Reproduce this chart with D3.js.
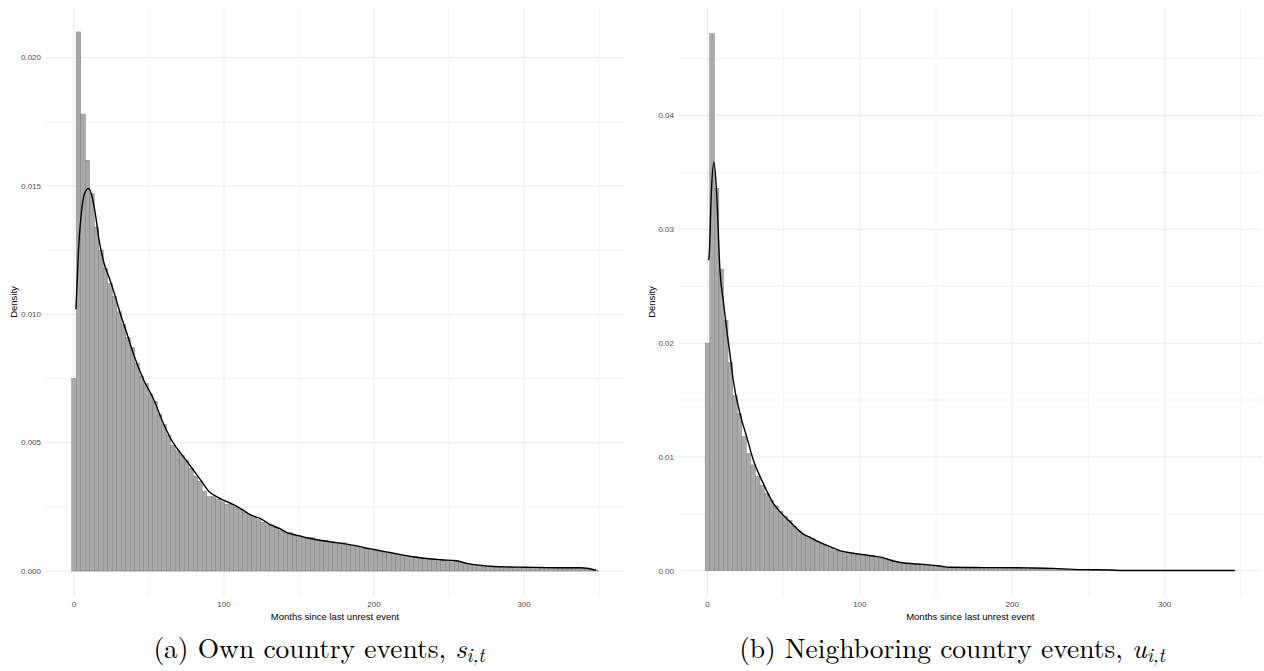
<!DOCTYPE html>
<html>
<head>
<meta charset="utf-8">
<script src="https://cdn.jsdelivr.net/npm/d3@7"></script>
<style>
  body { margin: 0; background: #fff; }
  svg { display: block; }
</style>
</head>
<body>
<script>
// histogram bins are 3 months wide, centres at 0, 3, 6, ...
const binWidth = 3;

// (a) own country events: bar densities
const ownBars = [
  0.0075, 0.0210, 0.0178, 0.0160, 0.0147, 0.0134, 0.0125, 0.0118, 0.0112, 0.0107,
  0.0101, 0.0096, 0.0091, 0.0087, 0.0081, 0.0076, 0.0073, 0.0069, 0.0066, 0.0061,
  0.0057, 0.0053, 0.0049, 0.0047, 0.0045, 0.0043, 0.0040, 0.0037, 0.0035, 0.0031,
  0.0029, 0.0029, 0.0028, 0.0027, 0.0026, 0.0026, 0.0025, 0.0024, 0.0023, 0.0022,
  0.0021, 0.0020, 0.0019, 0.0018, 0.0018, 0.0017, 0.0016, 0.0015, 0.0015, 0.0014,
  0.0014, 0.0013, 0.0013, 0.0013, 0.0012, 0.0012, 0.0012, 0.0011, 0.0011, 0.0011,
  0.0011, 0.0010, 0.0010, 0.00095, 0.0009, 0.00088, 0.00085, 0.0008, 0.00077, 0.00074,
  0.0007, 0.00067, 0.00065, 0.00062, 0.0006, 0.00057, 0.00055, 0.00052, 0.0005, 0.00048,
  0.00046, 0.00044, 0.00043, 0.00042, 0.0004, 0.00038, 0.00033, 0.0003, 0.00027, 0.00024,
  0.00022, 0.0002, 0.00019, 0.00018, 0.00017, 0.00017, 0.00016, 0.00016, 0.00015, 0.00015,
  0.00015, 0.00014, 0.00014, 0.00014, 0.00013, 0.00013, 0.00013, 0.00013, 0.00013, 0.00012,
  0.00012, 0.00012, 0.00012, 0.00011, 0.0001, 0.00008, 0.00004
];

// (a) kernel density curve: [months, density]
const ownDensity = [
  [1.3, 0.0102], [3, 0.0125], [5, 0.0140], [7, 0.0147], [9.6, 0.0149], [12, 0.0146],
  [14, 0.0140], [17, 0.0128], [20, 0.0120], [24, 0.01134], [28, 0.0106], [31, 0.0100],
  [35, 0.0093], [40, 0.0084], [46, 0.0075], [53, 0.0067], [60, 0.0057], [66, 0.0050],
  [71, 0.0046], [75, 0.0043], [80, 0.0039], [85, 0.0035], [90, 0.0031], [95, 0.0029],
  [100, 0.00275], [106, 0.0026], [112, 0.0024], [118, 0.00218], [124, 0.00205], [131, 0.0018],
  [137, 0.00166], [142, 0.0015], [148, 0.0014], [155, 0.0013], [166, 0.00118], [176, 0.0011],
  [186, 0.00101], [193, 0.00092], [200, 0.00084], [208, 0.00075], [217, 0.00065], [226, 0.00056],
  [235, 0.00049], [245, 0.00044], [255, 0.0004], [262, 0.0003], [270, 0.00023], [280, 0.00018],
  [290, 0.00016], [300, 0.00015], [311, 0.00014], [322, 0.00013], [337, 0.00013], [343, 0.0001],
  [348, 0.00003]
];

// (b) neighboring country events: bar densities
const nbrBars = [
  0.0200, 0.0472, 0.0336, 0.0265, 0.0220, 0.0183, 0.0154, 0.0138, 0.0118, 0.0103,
  0.0093, 0.0083, 0.0075, 0.0068, 0.0062, 0.0057, 0.0052, 0.0048, 0.0044, 0.0039,
  0.0035, 0.0032, 0.0030, 0.0028, 0.0026, 0.0024, 0.0022, 0.0020, 0.0018, 0.0017,
  0.0016, 0.0015, 0.0015, 0.0014, 0.0014, 0.0013, 0.0013, 0.0012, 0.0012, 0.0011,
  0.0010, 0.0008, 0.0007, 0.00066, 0.00062, 0.0006, 0.00058, 0.00055, 0.0005, 0.00045,
  0.0004, 0.00035, 0.00032, 0.0003, 0.0003, 0.0003, 0.00029, 0.00029, 0.00028, 0.00028,
  0.00028, 0.00027, 0.00027, 0.00027, 0.00026, 0.00026, 0.00026, 0.00025, 0.00025, 0.00025,
  0.00024, 0.00024, 0.00023, 0.00022, 0.00021, 0.0002, 0.00018, 0.00016, 0.00014, 0.00013,
  0.00012, 0.00011, 0.0001, 0.0001, 0.00009, 0.00008, 0.00007, 0.00006, 0.00005, 0.00003,
  0.00002, 0.00001, 0.00001, 0.00001, 0.00001, 0.00001, 0.00001, 0.00001, 0.00001, 0.00001,
  0.00001, 0.00001, 0.00001, 0.00001, 0.00001, 0.00001, 0.00001, 0.00001, 0.00001, 0.00001,
  0.00001, 0.00001, 0.00001, 0.00001, 0.00001, 0.00001
];

// (b) kernel density curve
const nbrDensity = [
  [0.5, 0.0273], [1, 0.0275], [2.7, 0.0337], [4.3, 0.0359], [6, 0.0332], [8.2, 0.0264],
  [10.5, 0.0236], [12.6, 0.0212], [14.8, 0.0190], [16.9, 0.01676], [21.3, 0.01383], [25.7, 0.01178],
  [30.1, 0.00973], [36.6, 0.00768], [43.2, 0.00592], [47.6, 0.00519], [54.1, 0.0043], [62.9, 0.00322],
  [67.3, 0.00293], [73.8, 0.0025], [80.4, 0.00211], [86.9, 0.00176], [95.7, 0.00153], [108.8, 0.00129],
  [115, 0.00115], [121.9, 0.00085], [130.7, 0.00065], [141.6, 0.00056], [152.6, 0.00041], [159, 0.0003],
  [175, 0.00028], [189.8, 0.00027], [210, 0.00025], [226.8, 0.00021], [240, 0.00012], [252, 0.00009],
  [264, 0.00006], [273, 0.00002], [300, 0.00002], [346, 0.00002]
];

const xTicks = [0, 100, 200, 300];
const xMinor = [50, 150, 250, 350];
const ownYTicks = [0, 0.005, 0.010, 0.015, 0.020];
const ownYMinor = [0.0025, 0.0075, 0.0125, 0.0175];
const nbrYTicks = [0, 0.01, 0.02, 0.03, 0.04];
const nbrYMinor = [0.005, 0.015, 0.025, 0.035, 0.045];

const xTitle = "Months since last unrest event";
const yTitle = "Density";

const svg = d3.select("body").append("svg")
  .attr("width", 1264)
  .attr("height", 671);

function drawPanel(opts) {
  const x = d3.scaleLinear().domain(opts.xDomain).range(opts.xRange);
  const y = d3.scaleLinear().domain(opts.yDomain).range([597, 7]);
  const g = svg.append("g");

  // grid
  const grid = g.append("g");
  grid.selectAll("line.ymin").data(opts.yMinor).enter().append("line")
    .attr("x1", opts.xRange[0]).attr("x2", opts.xRange[1])
    .attr("y1", d => y(d)).attr("y2", d => y(d))
    .attr("stroke", "#f0f0f0").attr("stroke-width", 0.8);
  grid.selectAll("line.xmin").data(xMinor).enter().append("line")
    .attr("y1", 7).attr("y2", 597)
    .attr("x1", d => x(d)).attr("x2", d => x(d))
    .attr("stroke", "#f0f0f0").attr("stroke-width", 0.8);
  grid.selectAll("line.ymaj").data(opts.yTicks).enter().append("line")
    .attr("x1", opts.xRange[0]).attr("x2", opts.xRange[1])
    .attr("y1", d => y(d)).attr("y2", d => y(d))
    .attr("stroke", "#ebebeb").attr("stroke-width", 1);
  grid.selectAll("line.xmaj").data(xTicks).enter().append("line")
    .attr("y1", 7).attr("y2", 597)
    .attr("x1", d => x(d)).attr("x2", d => x(d))
    .attr("stroke", "#ebebeb").attr("stroke-width", 1);

  // histogram
  g.selectAll("rect.bar").data(opts.bars).enter().append("rect")
    .attr("class", "bar")
    .attr("x", (d, i) => x(i * binWidth - binWidth / 2))
    .attr("width", (d, i) => x(i * binWidth + binWidth / 2) - x(i * binWidth - binWidth / 2))
    .attr("y", d => y(d))
    .attr("height", d => y(0) - y(d))
    .attr("fill", "#a9a9a9")
    .attr("stroke", "#7a7a7a")
    .attr("stroke-width", 0.45);

  // density line
  const line = d3.line()
    .x(d => x(d[0]))
    .y(d => y(d[1]))
    .curve(d3.curveMonotoneX);
  g.append("path")
    .datum(opts.density)
    .attr("d", line)
    .attr("fill", "none")
    .attr("stroke", "#000")
    .attr("stroke-width", 1.4);

  // x axis labels
  g.selectAll("text.xt").data(xTicks).enter().append("text")
    .attr("x", d => x(d)).attr("y", 607)
    .attr("text-anchor", "middle")
    .attr("font-family", "Liberation Sans, Arial, sans-serif")
    .attr("font-size", 8)
    .attr("fill", "#4d4d4d")
    .text(d => d);

  // y axis labels
  g.selectAll("text.yt").data(opts.yTicks).enter().append("text")
    .attr("x", opts.xRange[0] - 4.5).attr("y", d => y(d) + 2.8)
    .attr("text-anchor", "end")
    .attr("font-family", "Liberation Sans, Arial, sans-serif")
    .attr("font-size", 8)
    .attr("fill", "#4d4d4d")
    .text(d => d3.format(opts.yFormat)(d));

  g.append("text")
    .attr("x", (opts.xRange[0] + opts.xRange[1]) / 2).attr("y", 619.5)
    .attr("text-anchor", "middle")
    .attr("font-family", "Liberation Sans, Arial, sans-serif")
    .attr("font-size", 9.5)
    .attr("fill", "#000")
    .text(xTitle);

  g.append("text")
    .attr("transform", "translate(" + opts.yTitleX + ",302) rotate(-90)")
    .attr("text-anchor", "middle")
    .attr("font-family", "Liberation Sans, Arial, sans-serif")
    .attr("font-size", 9.5)
    .attr("fill", "#000")
    .text(yTitle);

  // caption
  const cap = svg.append("text")
    .attr("x", opts.capX).attr("y", 658)
    .attr("text-anchor", "middle")
    .attr("font-family", "Latin Modern Roman, CMU Serif, Liberation Serif, serif")
    .attr("font-size", 27.5)
    .attr("fill", "#000");
  cap.append("tspan").text(opts.caption);
  cap.append("tspan").attr("font-style", "italic").text(opts.capVar);
  cap.append("tspan").attr("font-style", "italic").attr("font-size", 19)
    .attr("dy", 4).text("i,t");
}

drawPanel({
  xDomain: [-19, 367], xRange: [45.5, 624.5],
  yDomain: [-0.00101, 0.02197],
  yTicks: ownYTicks, yMinor: ownYMinor, yFormat: ".3f",
  bars: ownBars, density: ownDensity,
  yTitleX: 17, capX: 319,
  caption: "(a) Own country events, ", capVar: "s"
});

drawPanel({
  xDomain: [-19, 364], xRange: [678.5, 1262.2],
  yDomain: [-0.00231, 0.04954],
  yTicks: nbrYTicks, yMinor: nbrYMinor, yFormat: ".2f",
  bars: nbrBars, density: nbrDensity,
  yTitleX: 655, capX: 952,
  caption: "(b) Neighboring country events, ", capVar: "u"
});
</script>
</body>
</html>
